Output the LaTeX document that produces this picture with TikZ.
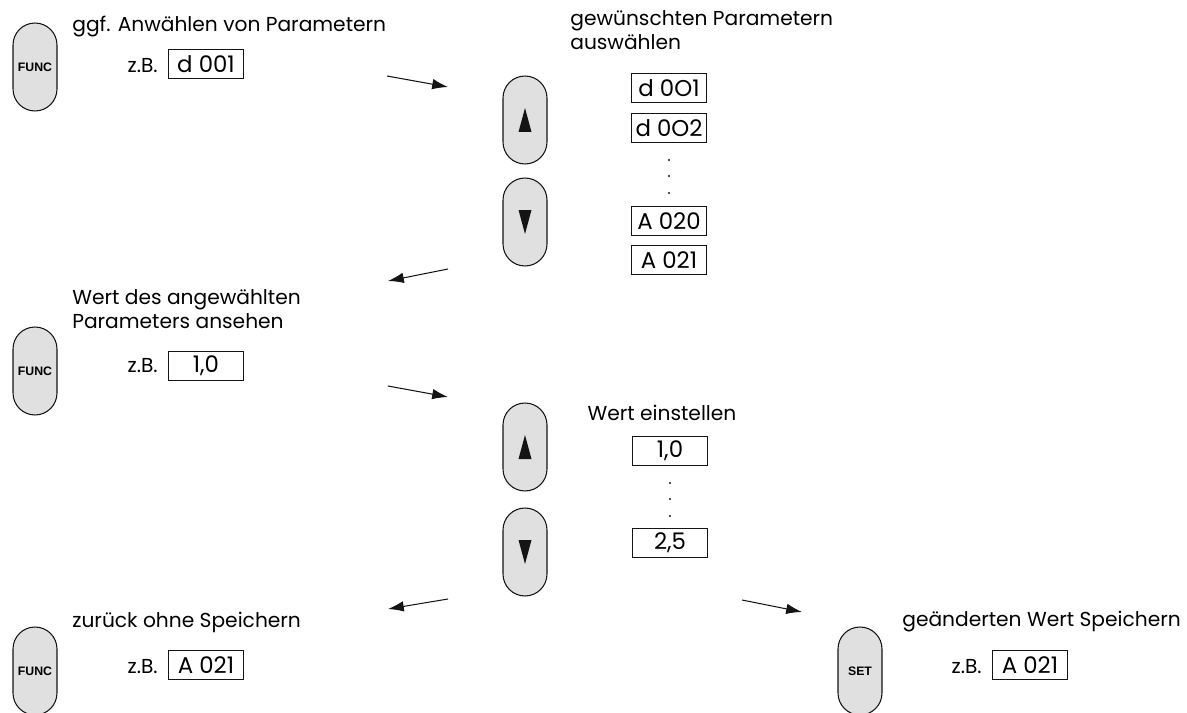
\documentclass[tikz,border=0pt]{standalone}
\usepackage{fontspec}
\setmainfont{Poppins}
\newfontfamily\keyfont{Liberation Sans}
\usepackage{tikz}
\usetikzlibrary{arrows.meta, positioning, calc}
\definecolor{mydark}{RGB}{20,20,20}
\definecolor{keygray}{RGB}{224,224,224}
\tikzset{
  keybtn/.style={rectangle, draw=mydark, fill=keygray,
    minimum width=0.88cm, minimum height=1.76cm, inner sep=0pt,
    font=\keyfont\bfseries\fontsize{7}{8}\selectfont,
    rounded corners=0.44cm, line width=0.6pt},
  dispbox/.style={rectangle, draw=mydark, minimum width=1.5cm,
    minimum height=0.58cm, inner sep=0pt,
    font=\fontsize{13}{15}\selectfont, line width=0.5pt},
  txt/.style={inner sep=0pt, align=left,
    font=\fontsize{11.5}{13.5}\selectfont},
  dotty/.style={circle, fill=mydark, inner sep=0pt, minimum size=1.2pt},
  arrow/.style={-{Latex[length=9pt, width=6pt]}, line width=0.6pt, color=mydark},
  arrowtri/.style={fill=mydark}
}

\begin{document}
\begin{tikzpicture}[x=0.02cm, y=-0.02cm, node distance=0.2cm]
  \useasboundingbox (0,0) rectangle (1187,713);

  % Step 1: FUNC, choose parameter
  \node[keybtn] (func1) at (35,67) {FUNC};
  \node[txt, anchor=west] (sel) at (72,27) {ggf. Anwählen von Parametern};
  \node[dispbox] (d1) at (206,64) {d 001};
  \node[txt, anchor=base east] (zb1) at ($(d1.base west)+(-0.2cm,0)$) {z.B.};

  % Step 2: up/down, parameter list
  \node[keybtn] (up1) at (525,120) {};
  \node[keybtn] (down1) at (525,222) {};
  \fill[arrowtri] ($(up1.center)+(0,-12)$) -- ++(-6.5,24) -- ++(13,0) -- cycle;
  \fill[arrowtri] ($(down1.center)+(0,12)$) -- ++(-6.5,-24) -- ++(13,0) -- cycle;
  \node[txt, anchor=west] (choose) at (570,30) {gewünschten Parametern\\auswählen};
  \node[dispbox] (p1) at (669,88) {d 0O1};
  \node[dispbox] (p2) at (669,128) {d 0O2};
  \foreach \i/\y in {1/160,2/176,3/193}
    \node[dotty] (pdot\i) at (669,\y) {};
  \node[dispbox] (p3) at (669,221) {A 020};
  \node[dispbox] (p4) at (669,260) {A 021};

  % Step 3: FUNC, look at value
  \node[keybtn] (func2) at (35,371) {FUNC};
  \node[txt, anchor=west] (look) at (72,309) {Wert des angewählten\\Parameters ansehen};
  \node[dispbox] (d2) at (206,366) {1,0};
  \node[txt, anchor=base east] (zb2) at ($(d2.base west)+(-0.2cm,0)$) {z.B.};

  % Step 4: up/down, set value
  \node[keybtn] (up2) at (525,447) {};
  \node[keybtn] (down2) at (525,552) {};
  \fill[arrowtri] ($(up2.center)+(0,-12)$) -- ++(-6.5,24) -- ++(13,0) -- cycle;
  \fill[arrowtri] ($(down2.center)+(0,12)$) -- ++(-6.5,-24) -- ++(13,0) -- cycle;
  \node[txt] (adjust) at (662,413) {Wert einstellen};
  \node[dispbox] (v1) at (670,451) {1,0};
  \foreach \i/\y in {1/483,2/499,3/516}
    \node[dotty] (vdot\i) at (670,\y) {};
  \node[dispbox] (v2) at (670,543) {2,5};

  % Step 5: FUNC back / SET store
  \node[keybtn] (func3) at (35,671) {FUNC};
  \node[txt, anchor=west] (back) at (72,622) {zurück ohne Speichern};
  \node[dispbox] (d3) at (206,665) {A 021};
  \node[txt, anchor=base east] (zb3) at ($(d3.base west)+(-0.2cm,0)$) {z.B.};

  \node[keybtn] (set) at (860,671) {SET};
  \node[txt, anchor=west] (store) at (902,622) {geänderten Wert Speichern};
  \node[dispbox] (d4) at (1030,665) {A 021};
  \node[txt, anchor=base east] (zb4) at ($(d4.base west)+(-0.2cm,0)$) {z.B.};

  % Arrows between steps
  \coordinate (a1s) at (387,76);  \coordinate (a1e) at (448,87);
  \coordinate (a2s) at (448,269); \coordinate (a2e) at (388,281);
  \coordinate (a3s) at (388,386); \coordinate (a3e) at (448,397);
  \coordinate (a4s) at (448,599); \coordinate (a4e) at (388,609);
  \coordinate (a5s) at (742,600); \coordinate (a5e) at (802,612);
  \draw[arrow] (a1s) -- (a1e);
  \draw[arrow] (a2s) -- (a2e);
  \draw[arrow] (a3s) -- (a3e);
  \draw[arrow] (a4s) -- (a4e);
  \draw[arrow] (a5s) -- (a5e);
\end{tikzpicture}
\end{document}
